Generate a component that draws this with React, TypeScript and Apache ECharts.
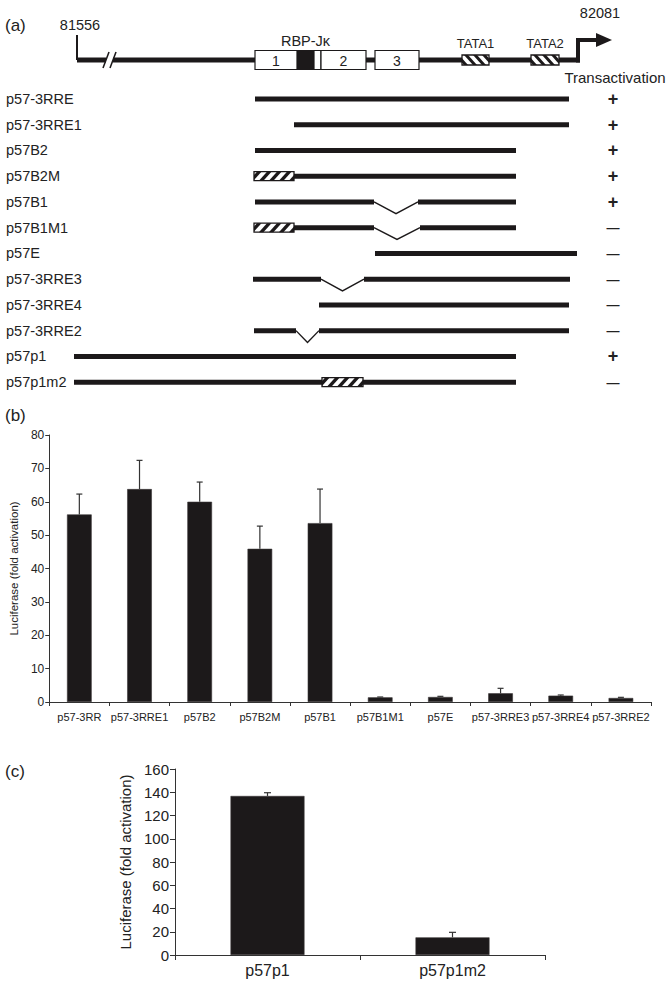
import React, { useEffect, useRef } from 'react';
import * as echarts from 'echarts';

const FONT = '"Liberation Sans", Arial, Helvetica, sans-serif';
const INK = '#1c191a';
const TEXT = '#222222';

// ---------- Panel (a): gene map, schematic units measured from the 81556 end ----------
const geneSpan = [0, 501];
const geneBreak = [29, 36];
const exonLabels = ['1', '2', '3'];
const exonStart = [178, 244, 298];
const exonEnd = [244, 289, 342];
const rbpName = 'RBP-Jκ';
const rbpSite = [220, 237];
const tataNames = ['TATA1', 'TATA2'];
const tataStart = [385, 454];
const tataEnd = [412, 482];
const coordNames = ['81556', '82081'];

// ---------- Panel (a): reporter constructs ----------
const constructNames = ['p57-3RRE', 'p57-3RRE1', 'p57B2', 'p57B2M', 'p57B1', 'p57B1M1', 'p57E', 'p57-3RRE3', 'p57-3RRE4', 'p57-3RRE2', 'p57p1', 'p57p1m2'];
const constructStart = [178, 217, 178, 178, 178, 178, 298, 176, 242, 177, -3, -3];
const constructEnd = [492, 492, 439, 439, 439, 439, 500, 493, 492, 492, 439, 439];
const deletionStart: (number | null)[] = [null, null, null, null, 297, 297, null, 244, null, 219, null, null];
const deletionEnd: (number | null)[] = [null, null, null, null, 341, 343, null, 287, null, 242, null, null];
const mutationStart: (number | null)[] = [null, null, null, 177, null, 177, null, null, null, null, null, 245];
const mutationEnd: (number | null)[] = [null, null, null, 217, null, 217, null, null, null, null, null, 286];
const transactivation = ['+', '+', '+', '+', '+', '—', '—', '—', '—', '—', '+', '—'];

// ---------- Panel (b) ----------
const bCategories = ['p57-3RR', 'p57-3RRE1', 'p57B2', 'p57B2M', 'p57B1', 'p57B1M1', 'p57E', 'p57-3RRE3', 'p57-3RRE4', 'p57-3RRE2'];
const bValues = [56.2, 63.8, 60.0, 45.9, 53.6, 1.4, 1.5, 2.6, 1.9, 1.2];
const bErrorTop = [62.3, 72.4, 65.9, 52.7, 63.8, 1.5, 1.7, 4.1, 2.1, 1.4];
const bAxisMin = 0;
const bAxisMax = 80;
const bAxisStep = 10;

// ---------- Panel (c) ----------
const cCategories = ['p57p1', 'p57p1m2'];
const cValues = [136.8, 15.2];
const cErrorTop = [139.6, 19.5];
const cAxisMin = 0;
const cAxisMax = 160;
const cAxisStep = 20;

const yName = 'Luciferase (fold activation)';

function clipX(pts: number[][], lo: number, hi: number) {
  const clipEdge = (input: number[][], inside: (p: number[]) => boolean, xv: number) => {
    const out: number[][] = [];
    const inter = (a: number[], b: number[]) => {
      const t = (xv - a[0]) / (b[0] - a[0]);
      return [xv, a[1] + t * (b[1] - a[1])];
    };
    for (let k = 0; k < input.length; k++) {
      const cur = input[k];
      const prev = input[(k + input.length - 1) % input.length];
      const ci = inside(cur);
      const pi = inside(prev);
      if (ci) {
        if (!pi) out.push(inter(prev, cur));
        out.push(cur);
      } else if (pi) {
        out.push(inter(prev, cur));
      }
    }
    return out;
  };
  let r = clipEdge(pts, (p) => p[0] >= lo, lo);
  if (r.length) r = clipEdge(r, (p) => p[0] <= hi, hi);
  return r;
}

function hatchBox(x0: number, x1: number, yc: number, h: number, dir: number, period: number, w: number, phase: number) {
  const y0 = yc - h / 2;
  const y1 = yc + h / 2;
  const slant = h * 0.9;
  const ch: any[] = [
    { type: 'rect', shape: { x: x0, y: y0, width: x1 - x0, height: h }, style: { fill: '#ffffff' } },
  ];
  for (let a = x0 - slant - period + phase; a < x1 + period; a += period) {
    const pts = dir > 0
      ? [[a, y1], [a + w, y1], [a + w + slant, y0], [a + slant, y0]]
      : [[a, y0], [a + w, y0], [a + w + slant, y1], [a + slant, y1]];
    const c = clipX(pts, x0, x1);
    if (c.length >= 3) ch.push({ type: 'polygon', shape: { points: c }, style: { fill: INK } });
  }
  ch.push({ type: 'rect', shape: { x: x0, y: y0, width: x1 - x0, height: h }, style: { fill: null, stroke: INK, lineWidth: 1.3 } });
  return ch;
}

function txt(text: string, x: number, y: number, size: number, align = 'center') {
  return {
    type: 'text',
    x,
    y,
    style: { text, fill: TEXT, fontSize: size, fontFamily: FONT, align, verticalAlign: 'middle' },
  };
}

const LINE_W = 5;

function renderGene(_params: any, api: any) {
  const X = (u: number) => api.coord([u, 0])[0];
  const yc = api.coord([0, 0])[1];
  const ch: any[] = [];
  ch.push({ type: 'rect', shape: { x: X(geneSpan[0]), y: yc - LINE_W / 2, width: X(geneBreak[0]) - X(geneSpan[0]), height: LINE_W }, style: { fill: INK } });
  ch.push({ type: 'rect', shape: { x: X(geneBreak[1]), y: yc - LINE_W / 2, width: X(geneSpan[1]) - X(geneBreak[1]) + 2, height: LINE_W }, style: { fill: INK } });
  ch.push({ type: 'line', shape: { x1: X(geneSpan[0]), y1: yc - 25, x2: X(geneSpan[0]), y2: yc }, style: { stroke: INK, lineWidth: 2 } });
  for (const u of geneBreak) {
    ch.push({ type: 'line', shape: { x1: X(u) - 3, y1: yc + 8, x2: X(u) + 3, y2: yc - 8 }, style: { stroke: INK, lineWidth: 1.6 } });
  }
  const ax = X(geneSpan[1]);
  ch.push({ type: 'polyline', shape: { points: [[ax, yc + LINE_W / 2], [ax, yc - 20], [ax + 20, yc - 20]] }, style: { stroke: INK, lineWidth: 4, fill: null } });
  ch.push({ type: 'polygon', shape: { points: [[ax + 18, yc - 27], [ax + 34, yc - 20], [ax + 18, yc - 13]] }, style: { fill: INK } });
  ch.push(txt(coordNames[0], X(geneSpan[0]) + 3, yc - 35, 14.5));
  ch.push(txt(coordNames[1], ax + 22, yc - 47, 14.5));
  return { type: 'group', children: ch };
}

function renderExon(params: any, api: any) {
  const i = params.dataIndex;
  const X = (u: number) => api.coord([u, 0])[0];
  const yc = api.coord([0, 0])[1];
  const s = exonStart[i];
  const e = exonEnd[i];
  const hi = rbpSite[0] > s && rbpSite[0] < e ? rbpSite[0] : e;
  return {
    type: 'group',
    children: [
      { type: 'rect', shape: { x: X(s), y: yc - 9.5, width: X(e) - X(s), height: 19 }, style: { fill: '#ffffff', stroke: INK, lineWidth: 1.2 } },
      txt(exonLabels[i], (X(s) + X(hi)) / 2, yc + 1, 14),
    ],
  };
}

function renderRbp(_params: any, api: any) {
  const X = (u: number) => api.coord([u, 0])[0];
  const yc = api.coord([0, 0])[1];
  return {
    type: 'group',
    children: [
      { type: 'rect', shape: { x: X(rbpSite[0]), y: yc - 9.5, width: X(rbpSite[1]) - X(rbpSite[0]), height: 19 }, style: { fill: INK, stroke: INK, lineWidth: 1.2 } },
      txt(rbpName, (X(rbpSite[0]) + X(rbpSite[1])) / 2, yc - 19, 14.5),
    ],
  };
}

function renderTata(params: any, api: any) {
  const i = params.dataIndex;
  const X = (u: number) => api.coord([u, 0])[0];
  const yc = api.coord([0, 0])[1];
  const x0 = X(tataStart[i]);
  const x1 = X(tataEnd[i]);
  return {
    type: 'group',
    children: [
      ...hatchBox(x0, x1, yc, 10, -1, 9, 4, 2),
      txt(tataNames[i], (x0 + x1) / 2, yc - 17, 13),
    ],
  };
}

function renderConstruct(params: any, api: any) {
  const i = params.dataIndex;
  const X = (u: number) => api.coord([u, i])[0];
  const yc = api.coord([0, i])[1];
  const band = api.size([0, 1])[1];
  const s = constructStart[i];
  const e = constructEnd[i];
  const ds = deletionStart[i];
  const de = deletionEnd[i];
  const ms = mutationStart[i];
  const me = mutationEnd[i];
  const ch: any[] = [];
  const segs = ds != null && de != null ? [[s, ds], [de, e]] : [[s, e]];
  for (const [a, b] of segs) {
    ch.push({ type: 'rect', shape: { x: X(a), y: yc - LINE_W / 2, width: X(b) - X(a), height: LINE_W }, style: { fill: INK } });
  }
  if (ds != null && de != null) {
    ch.push({
      type: 'polyline',
      shape: { points: [[X(ds), yc], [(X(ds) + X(de)) / 2, yc + band * 0.46], [X(de), yc]] },
      style: { stroke: INK, lineWidth: 1.4, fill: null },
    });
  }
  if (ms != null && me != null) {
    ch.push(...hatchBox(X(ms), X(me), yc, 9, 1, 10, 4.5, 3));
  }
  return { type: 'group', children: ch };
}

function errorRenderer(capHalf: number) {
  return (_params: any, api: any) => {
    const i = api.value(0);
    const p0 = api.coord([i, api.value(1)]);
    const p1 = api.coord([i, api.value(2)]);
    return {
      type: 'group',
      children: [
        { type: 'line', shape: { x1: p0[0], y1: p0[1], x2: p1[0], y2: p1[1] }, style: { stroke: '#333333', lineWidth: 1.2 } },
        { type: 'line', shape: { x1: p1[0] - capHalf, y1: p1[1], x2: p1[0] + capHalf, y2: p1[1] }, style: { stroke: '#333333', lineWidth: 1.2 } },
      ],
    };
  };
}

const axisInk = { lineStyle: { color: '#333333', width: 1 } };

export default function App() {
  const ref = useRef<HTMLDivElement>(null);
  useEffect(() => {
    document.body.style.margin = '0';
    if (!ref.current) return;
    const chart = echarts.init(ref.current, undefined, { renderer: 'svg' });
    const schematicMin = -10;
    const schematicMax = 523;
    chart.setOption({
      animation: false,
      textStyle: { fontFamily: FONT, color: TEXT },
      grid: [
        { left: 67, width: 533, top: 40, height: 40 },
        { left: 67, width: 533, top: 86, height: 309 },
        { left: 43, width: 608, top: 435, height: 267 },
        { left: 175, width: 370, top: 769, height: 186 },
      ],
      xAxis: [
        { gridIndex: 0, type: 'value', min: schematicMin, max: schematicMax, show: false },
        { gridIndex: 1, type: 'value', min: schematicMin, max: schematicMax, show: false },
        {
          gridIndex: 2,
          type: 'category',
          data: bCategories,
          axisLine: axisInk,
          axisTick: { show: true, length: 4, ...axisInk },
          axisLabel: { interval: 0, fontSize: 11, color: TEXT, fontFamily: FONT, margin: 9 },
        },
        {
          gridIndex: 3,
          type: 'category',
          data: cCategories,
          axisLine: axisInk,
          axisTick: { show: true, length: 5, ...axisInk },
          axisLabel: { interval: 0, fontSize: 16, color: TEXT, fontFamily: FONT, margin: 7 },
        },
      ],
      yAxis: [
        { gridIndex: 0, type: 'value', min: -1, max: 1, show: false },
        {
          gridIndex: 1,
          type: 'category',
          data: constructNames,
          inverse: true,
          axisLine: { show: false },
          axisTick: { show: false },
          axisLabel: { align: 'left', margin: 61, fontSize: 14.5, color: TEXT, fontFamily: FONT, padding: [0, 0, 5, 0] },
        },
        {
          gridIndex: 1,
          type: 'category',
          data: constructNames,
          inverse: true,
          position: 'right',
          axisLine: { show: false },
          axisTick: { show: false },
          axisLabel: {
            align: 'center',
            margin: 13,
            color: TEXT,
            fontFamily: FONT,
            formatter: (_v: string, idx: number) => (transactivation[idx] === '+' ? '{p|+}' : '{m|' + transactivation[idx] + '}'),
            rich: {
              p: { fontSize: 18, fontWeight: 'bold', color: TEXT, fontFamily: FONT },
              m: { fontSize: 13, fontWeight: 'bold', color: TEXT, fontFamily: FONT },
            },
          },
        },
        {
          gridIndex: 2,
          type: 'value',
          min: bAxisMin,
          max: bAxisMax,
          interval: bAxisStep,
          name: yName,
          nameLocation: 'middle',
          nameRotate: 90,
          nameGap: 22,
          nameTextStyle: { fontSize: 11.5, color: TEXT, fontFamily: FONT },
          splitLine: { show: false },
          axisLine: { show: true, ...axisInk },
          axisTick: { show: true, length: 4, ...axisInk },
          axisLabel: { fontSize: 12, color: TEXT, fontFamily: FONT, margin: 5 },
        },
        {
          gridIndex: 3,
          type: 'value',
          min: cAxisMin,
          max: cAxisMax,
          interval: cAxisStep,
          name: yName,
          nameLocation: 'middle',
          nameRotate: 90,
          nameGap: 30,
          nameTextStyle: { fontSize: 15, color: TEXT, fontFamily: FONT },
          splitLine: { show: false },
          axisLine: { show: true, ...axisInk },
          axisTick: { show: true, length: 5, ...axisInk },
          axisLabel: { fontSize: 15, color: TEXT, fontFamily: FONT, margin: 6 },
        },
      ],
      series: [
        { type: 'custom', xAxisIndex: 0, yAxisIndex: 0, data: [[geneSpan[0], 0]], renderItem: renderGene, silent: true },
        { type: 'custom', xAxisIndex: 0, yAxisIndex: 0, data: exonStart.map((s, i) => [s, exonEnd[i]]), renderItem: renderExon, silent: true },
        { type: 'custom', xAxisIndex: 0, yAxisIndex: 0, data: [[rbpSite[0], rbpSite[1]]], renderItem: renderRbp, silent: true },
        { type: 'custom', xAxisIndex: 0, yAxisIndex: 0, data: tataStart.map((s, i) => [s, tataEnd[i]]), renderItem: renderTata, silent: true },
        {
          type: 'custom',
          xAxisIndex: 1,
          yAxisIndex: 1,
          data: constructNames.map((_n, i) => [constructStart[i], constructEnd[i], i]),
          encode: { x: [0, 1], y: 2 },
          renderItem: renderConstruct,
          silent: true,
        },
        {
          type: 'bar',
          xAxisIndex: 2,
          yAxisIndex: 3,
          data: bValues,
          barWidth: '41%',
          itemStyle: { color: INK, borderColor: '#3a3637', borderWidth: 0.6 },
        },
        {
          type: 'custom',
          xAxisIndex: 2,
          yAxisIndex: 3,
          data: bCategories.map((_c, i) => [i, bValues[i], bErrorTop[i]]),
          encode: { x: 0, y: [1, 2] },
          renderItem: errorRenderer(3),
          z: 3,
        },
        {
          type: 'bar',
          xAxisIndex: 3,
          yAxisIndex: 4,
          data: cValues,
          barWidth: '40%',
          itemStyle: { color: INK, borderColor: '#3a3637', borderWidth: 0.6 },
        },
        {
          type: 'custom',
          xAxisIndex: 3,
          yAxisIndex: 4,
          data: cCategories.map((_c, i) => [i, cValues[i], cErrorTop[i]]),
          encode: { x: 0, y: [1, 2] },
          renderItem: errorRenderer(3.5),
          z: 3,
        },
      ],
      graphic: [
        { type: 'text', left: 5, top: 17, style: { text: '(a)', fontSize: 17, fill: TEXT, fontFamily: FONT } },
        { type: 'text', left: 5, top: 407, style: { text: '(b)', fontSize: 17, fill: TEXT, fontFamily: FONT } },
        { type: 'text', left: 5, top: 763, style: { text: '(c)', fontSize: 17, fill: TEXT, fontFamily: FONT } },
        { type: 'text', x: 615, y: 77, style: { text: 'Transactivation', fontSize: 15, fill: TEXT, fontFamily: FONT, align: 'center', verticalAlign: 'middle' } },
      ],
    });
    return () => chart.dispose();
  }, []);
  return <div ref={ref} style={{ position: 'absolute', left: 0, top: 0, width: 672, height: 985 }} />;
}
